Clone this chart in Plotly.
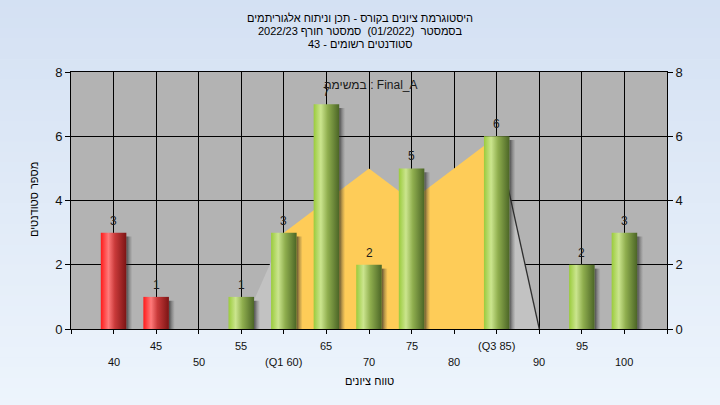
import plotly.graph_objects as go

# Grade histogram data
grade_bins = [40, 45, 50, 55, 60, 65, 70, 75, 80, 85, 90, 95, 100]
student_counts = [3, 1, 0, 1, 3, 7, 2, 5, 0, 6, 0, 2, 3]
pass_mark = 55

# Background distribution area
area_x = [55, 60, 65, 70, 75, 80, 85, 90]
area_y = [0, 3, 4, 5, 4, 5, 6, 0]
q1_grade = 60
q3_grade = 85

# Axis labels
upper_row_ticks = [45, 55, 65, 75, 85, 95]
lower_row_ticks = [40, 50, 60, 70, 80, 90, 100]
quartile_labels = {60: "(Q1 60)", 85: "(Q3 85)"}

title_lines = [
    "היסטוגרמת ציונים בקורס - תכן וניתוח אלגוריתמים",
    "בסמסטר\u00a0 (01/2022)\u00a0 סמסטר חורף 2022/23",
    "סטודנטים רשומים - 43",
]
x_title = "טווח ציונים"
y_title = "מספר סטודנטים"
task_label = "במשימה : Final_A"

FONT = "Arial, Liberation Sans, DejaVu Sans, sans-serif"
X_MIN, X_MAX = 35, 105
Y_MIN, Y_MAX = 0, 8
BAR_HALF = 1.5
SHADOW_W = 0.7

fig = go.Figure()

# Distribution area: grey shoulders outside the quartiles, yellow inside
left_pts = [(x, y) for x, y in zip(area_x, area_y) if x <= q1_grade]
mid_pts = [(x, y) for x, y in zip(area_x, area_y) if q1_grade <= x <= q3_grade]
right_pts = [(x, y) for x, y in zip(area_x, area_y) if x >= q3_grade]
for pts, col in [(left_pts, "#c2c2c2"), (right_pts, "#c2c2c2"), (mid_pts, "#fecc58")]:
    fig.add_trace(go.Scatter(
        x=[p[0] for p in pts], y=[p[1] for p in pts],
        mode="lines", line=dict(width=0, color=col),
        fill="tozeroy", fillcolor=col, hoverinfo="skip", showlegend=False,
    ))
fig.add_trace(go.Scatter(
    x=[p[0] for p in right_pts], y=[p[1] for p in right_pts],
    mode="lines", line=dict(width=1.3, color="#2e2e2e"),
    hoverinfo="skip", showlegend=False,
))

# Cylinder-style bars with soft drop shadows
green_scale = [[0.0, "#9acb3c"], [0.28, "#cbe58e"], [0.55, "#8fae4e"], [1.0, "#4b6526"]]
red_scale = [[0.0, "#ff1a1a"], [0.3, "#ff7a7a"], [0.55, "#c93a3a"], [1.0, "#7c1414"]]
shadow_scale = [[0.0, "rgba(30,30,30,0.7)"], [0.5, "rgba(40,40,40,0.3)"], [1.0, "rgba(60,60,60,0)"]]

for g, v in zip(grade_bins, student_counts):
    if v <= 0:
        continue
    sx0, sx1 = g + BAR_HALF, g + BAR_HALF + SHADOW_W
    fig.add_trace(go.Scatter(
        x=[sx0, sx1, sx1, sx0, sx0], y=[0, 0, v - 0.12, v - 0.12, 0],
        mode="lines", line=dict(width=0), fill="toself",
        fillgradient=dict(type="horizontal", colorscale=shadow_scale),
        hoverinfo="skip", showlegend=False,
    ))
    x0, x1 = g - BAR_HALF, g + BAR_HALF
    fig.add_trace(go.Scatter(
        x=[x0, x1, x1, x0, x0], y=[0, 0, v, v, 0],
        mode="lines", line=dict(width=0), fill="toself",
        fillgradient=dict(type="horizontal",
                          colorscale=red_scale if g < pass_mark else green_scale),
        hoverinfo="skip", showlegend=False,
    ))

# Invisible trace to carry the right-hand axis
fig.add_trace(go.Scatter(x=[X_MIN], y=[Y_MIN], yaxis="y2", mode="markers",
                         marker=dict(opacity=0), hoverinfo="skip", showlegend=False))

# Page background gradient
shapes = []
n_bands = 40
top_rgb = (212, 225, 243)
bot_rgb = (237, 244, 252)
page_top, page_bot = 1.29, -0.31
for i in range(n_bands):
    t = i / (n_bands - 1)
    c = tuple(round(a + (b - a) * t) for a, b in zip(top_rgb, bot_rgb))
    y1 = page_top + (page_bot - page_top) * i / n_bands
    y0 = page_top + (page_bot - page_top) * (i + 1) / n_bands
    shapes.append(dict(type="rect", xref="paper", yref="paper", x0=-0.2, x1=1.2,
                       y0=y0 - 0.002, y1=y1, fillcolor="rgb(%d,%d,%d)" % c,
                       line=dict(width=0), layer="below"))
# Plot area fill
shapes.append(dict(type="rect", xref="x", yref="y", x0=X_MIN, x1=X_MAX, y0=Y_MIN, y1=Y_MAX,
                   fillcolor="#b3b3b3", line=dict(width=0), layer="below"))

annotations = []
# Value labels above bars
for g, v in zip(grade_bins, student_counts):
    if v > 0:
        annotations.append(dict(text=str(v), x=g, y=v, xref="x", yref="y",
                                yanchor="middle", xanchor="center", yshift=12,
                                showarrow=False,
                                font=dict(family=FONT, size=12, color="#1c1c1c")))

title_y_px = [18, 31, 44]
for line, ypx in zip(title_lines, title_y_px):
    annotations.append(dict(text=line, xref="paper", yref="paper",
                            x=(360 - 71) / 596, y=(329 - ypx) / 257,
                            xanchor="center", yanchor="middle", showarrow=False,
                            font=dict(family=FONT, size=11, color="#000000")))
for g in upper_row_ticks:
    annotations.append(dict(text=quartile_labels.get(g, str(g)), xref="x", yref="paper",
                            x=g, y=(329 - 345.5) / 257, xanchor="center", yanchor="middle",
                            showarrow=False, font=dict(family=FONT, size=11, color="#111111")))
for g in lower_row_ticks:
    annotations.append(dict(text=quartile_labels.get(g, str(g)), xref="x", yref="paper",
                            x=g, y=(329 - 362) / 257, xanchor="center", yanchor="middle",
                            showarrow=False, font=dict(family=FONT, size=11, color="#111111")))
annotations.append(dict(text=x_title, xref="paper", yref="paper",
                        x=(369 - 71) / 596, y=(329 - 381) / 257, xanchor="center",
                        yanchor="middle", showarrow=False,
                        font=dict(family=FONT, size=11, color="#000000")))
annotations.append(dict(text=y_title, xref="paper", yref="paper", textangle=-90,
                        x=(34 - 71) / 596, y=(329 - 200) / 257, xanchor="center",
                        yanchor="middle", showarrow=False,
                        font=dict(family=FONT, size=11, color="#000000")))
annotations.append(dict(text=task_label, xref="paper", yref="paper",
                        x=(370.5 - 71) / 596, y=(329 - 85) / 257, xanchor="center",
                        yanchor="middle", showarrow=False,
                        font=dict(family=FONT, size=12, color="#1a1a1a")))

axis_common = dict(range=[Y_MIN, Y_MAX], dtick=2, tick0=0, ticks="outside", ticklen=5,
                   tickcolor="#000000", tickfont=dict(family=FONT, size=13, color="#111111"),
                   zeroline=False, fixedrange=True)

fig.update_layout(
    width=720, height=405,
    margin=dict(l=71, r=53, t=72, b=76),
    paper_bgcolor="#dfe9f7", plot_bgcolor="#b3b3b3",
    showlegend=False,
    shapes=shapes, annotations=annotations,
    xaxis=dict(range=[X_MIN, X_MAX], tickvals=list(range(X_MIN, X_MAX + 1, 5)),
               showticklabels=False, ticks="outside", ticklen=4, tickcolor="#000000",
               showgrid=True, gridcolor="#000000", gridwidth=1,
               showline=True, linecolor="#000000", linewidth=1, mirror=True,
               zeroline=False, fixedrange=True),
    yaxis=dict(**axis_common, showgrid=True, gridcolor="#000000", gridwidth=1,
               showline=True, linecolor="#000000", linewidth=1, mirror=True),
    yaxis2=dict(**axis_common, overlaying="y", side="right", showgrid=False,
                showline=True, linecolor="#000000", linewidth=1),
)

fig.write_html("out.html")
